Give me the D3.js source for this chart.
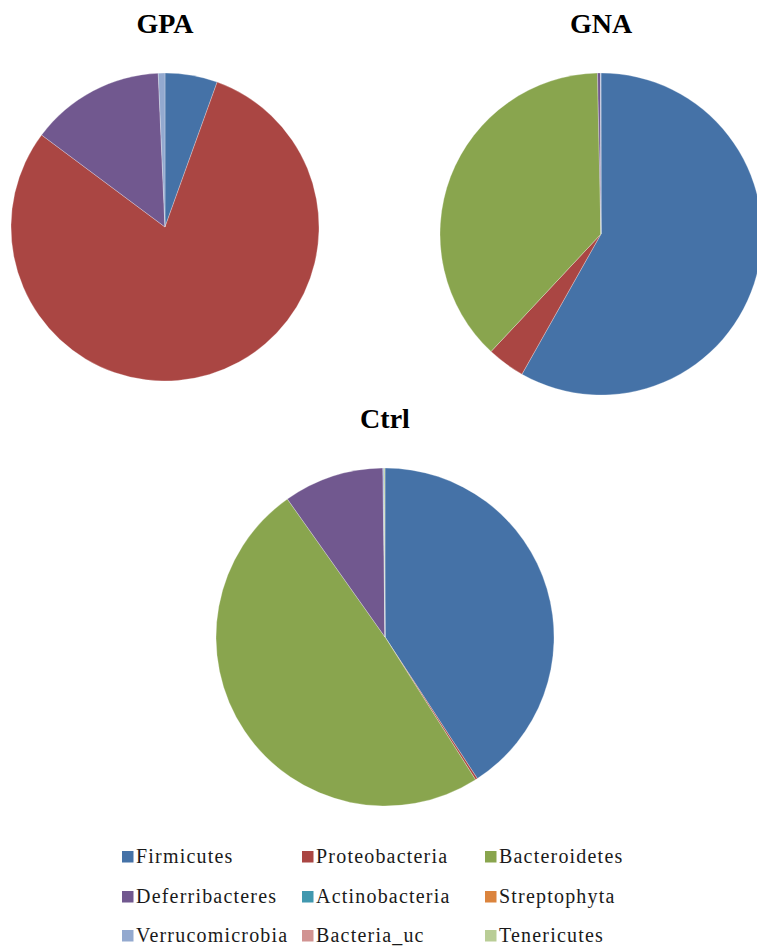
<!DOCTYPE html>
<html>
<head>
<meta charset="utf-8">
<script src="https://cdn.jsdelivr.net/npm/d3@7"></script>
<style>
  body { margin: 0; background: #fff; }
  svg { display: block; }
  svg text { font-family: "Liberation Serif", "DejaVu Serif", "Times New Roman", Times, serif; }
</style>
</head>
<body>
<svg id="chart"></svg>
<script>
const width = 757, height = 951;

const phyla = ["Firmicutes", "Proteobacteria", "Bacteroidetes", "Deferribacteres",
    "Actinobacteria", "Streptophyta", "Verrucomicrobia", "Bacteria_uc", "Tenericutes"];
const colors = ["#4572A7", "#AA4643", "#89A54E", "#71588F",
    "#4198AF", "#DB843D", "#93A9CF", "#D19392", "#B9CD96"];

// relative abundance (%) per group, same order as phyla
const gpaValues  = [5.5, 79.7, 0, 14.1, 0, 0, 0.7, 0, 0];
const gnaValues  = [58.2, 3.8, 37.7, 0.3, 0, 0, 0.05, 0, 0];
const ctrlValues = [40.8, 0.2, 49.2, 9.6, 0, 0, 0.1, 0, 0.1];

const groups = [
    {name: "GPA",  values: gpaValues,  cx: 165, cy: 227, r: 154, titleY: 33},
    {name: "GNA",  values: gnaValues,  cx: 601, cy: 234, r: 161, titleY: 33},
    {name: "Ctrl", values: ctrlValues, cx: 385, cy: 637, r: 169, titleY: 428}
];

const color = d3.scaleOrdinal().domain(phyla).range(colors);

const svg = d3.select("#chart")
    .attr("width", width)
    .attr("height", height);

const pie = d3.pie().sort(null).value(d => d.value);

groups.forEach(g => {
    const data = phyla.map((p, i) => ({phylum: p, value: g.values[i]}));
    const arc = d3.arc().innerRadius(0).outerRadius(g.r);

    const pg = svg.append("g")
        .attr("transform", "translate(" + g.cx + "," + g.cy + ")");

    pg.selectAll("path")
        .data(pie(data).filter(d => d.data.value > 0))
        .enter().append("path")
        .attr("d", arc)
        .attr("fill", d => color(d.data.phylum))
        .attr("stroke", "#fff")
        .attr("stroke-opacity", 0.45)
        .attr("stroke-width", 0.6);

    svg.append("text")
        .attr("x", g.cx)
        .attr("y", g.titleY)
        .attr("text-anchor", "middle")
        .style("font-weight", "bold")
        .style("font-size", "28px")
        .text(g.name);
});

// legend, 3 columns x 3 rows
const colX = [122, 302, 485];
const rowY = [863, 903, 942];

const legend = svg.append("g").attr("class", "legend");
const items = legend.selectAll(".legend-item")
    .data(phyla)
    .enter().append("g")
    .attr("class", "legend-item")
    .attr("transform", (d, i) => "translate(" + colX[i % 3] + "," + rowY[Math.floor(i / 3)] + ")");

items.append("rect")
    .attr("x", 0)
    .attr("y", -12)
    .attr("width", 11.5)
    .attr("height", 11.5)
    .attr("fill", d => color(d));

items.append("text")
    .attr("x", 14)
    .attr("y", 0)
    .style("font-size", "20px")
    .style("letter-spacing", "1.2px")
    .style("fill", "#1a1a1a")
    .text(d => d);
</script>
</body>
</html>
